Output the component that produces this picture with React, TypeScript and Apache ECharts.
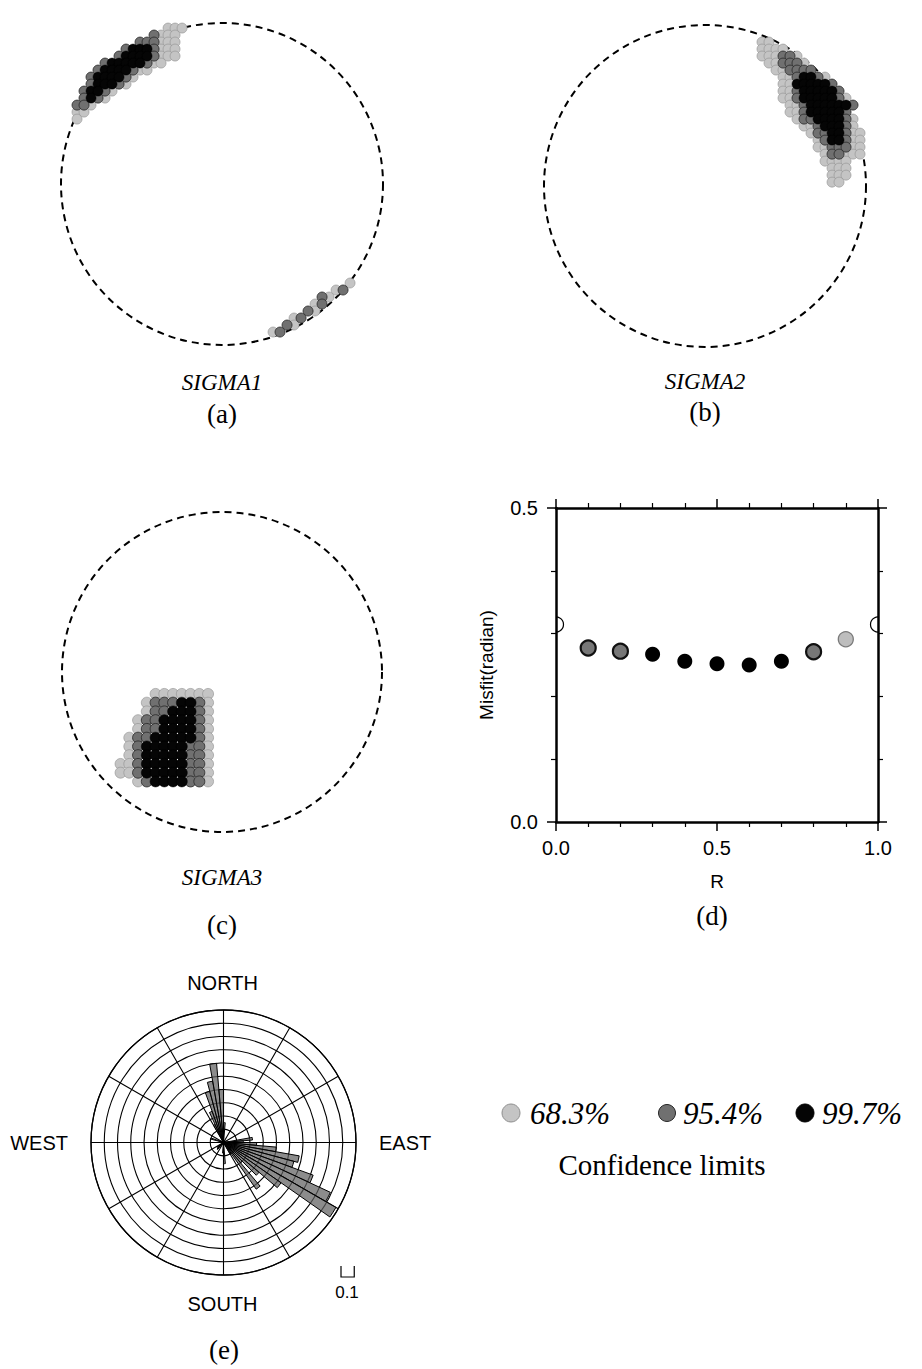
import React, { useEffect, useRef } from 'react';
import * as echarts from 'echarts';

// ---------------- DATA ----------------
// Confidence levels: 'a' = 68.3%, 'b' = 95.4%, 'c' = 99.7%
const LEVEL_KEYS = ['a', 'b', 'c'];
const LEVEL_NAMES = ['68.3%', '95.4%', '99.7%'];

// Stereonet solution clouds, read as dot maps (origin in projection units, one char per grid node)
const SIGMA1_BLOCKS = [
  {
    origin: [-0.944, 1.012], step: 0.0435,
    rows: [
      '.................a',
      '..............aaa',
      '............baaa',
      '..........bbbaaa',
      '........bcccbaaa',
      '.......bccccbaaa',
      '.....bcccccbaa',
      '....bccccbaa',
      '...bccccba',
      '...bcccba',
      '..bccba',
      '..bcba',
      '.bba',
      '.aa',
      '.a',
    ],
  },
  {
    origin: [0.317, -0.615], step: 0.0435,
    rows: [
      '...........a',
      '.........ab',
      '.......ba',
      '......ab',
      '.....ba',
      '...ab',
      '..ba',
      'ab',
    ],
  },
];

const SIGMA2_BLOCKS = [
  {
    origin: [0.354, 0.894], step: 0.0435,
    rows: [
      'aa',
      'aaaa',
      'aaabba',
      '.aabbba',
      '..aabbbb',
      '...aabccba',
      '...aacccccb',
      '...aabcccccb',
      '...aabcccccba',
      '....aabccccccb',
      '....aabcccccb',
      '.....abbccccba',
      '......aabcccba',
      '.......abbccbaa',
      '........abccbaa',
      '........aabbbaaa',
      '.........abbaaaa',
      '.........aaaa..a',
      '..........aaa',
      '..........aaa',
      '..........aa',
    ],
  },
];

const SIGMA3_BLOCKS = [
  {
    origin: [-0.634, -0.137], step: 0.0547,
    rows: [
      '....aaaaaaa',
      '...abbbccba',
      '...abbcccba',
      '..abbccccba',
      '..abbccccba',
      '.abbcccccba',
      '.abcccccbba',
      '.abcccccbba',
      'aabcccccbba',
      'aabcccccbba',
      '..abccccbba',
    ],
  },
];

// Panel (d): misfit versus stress ratio R
const R_VALUES = [0.1, 0.2, 0.3, 0.4, 0.5, 0.6, 0.7, 0.8, 0.9];
const MISFIT_VALUES = [0.277, 0.272, 0.267, 0.256, 0.252, 0.25, 0.256, 0.271, 0.291];
const MISFIT_LEVELS = ['b', 'b', 'c', 'c', 'c', 'c', 'c', 'b', 'a'];
const BOUNDARY_R = [0.0, 1.0];
const BOUNDARY_MISFIT = [0.3145, 0.3145];
const X_TICKS = [0.0, 0.5, 1.0];
const Y_TICKS = [0.0, 0.5];

// Panel (e): rose diagram, 5-degree bins starting at north, clockwise
const ROSE_BIN_WIDTH = 5;
const ROSE_FREQ = [
  0.15, 0, 0, 0, 0, 0,
  0, 0, 0, 0, 0, 0,
  0, 0, 0, 0, 0.22, 0.15,
  0.25, 0.4, 0.58, 0.55, 0.72, 0.89,
  0.98, 0.53, 0.35, 0.2, 0.43, 0.1,
  0, 0, 0, 0, 0, 0.16,
  0.08, 0, 0, 0, 0, 0,
  0, 0, 0.07, 0, 0.06, 0,
  0, 0, 0, 0, 0, 0,
  0, 0, 0, 0.1, 0, 0,
  0, 0, 0, 0, 0, 0,
  0.15, 0.25, 0.4, 0.47, 0.6, 0.4,
];
const ROSE_DIRECTIONS = ROSE_FREQ.map((_, i) => String(i * ROSE_BIN_WIDTH));
const ROSE_RING = 0.1;
const ROSE_MAX = 1.0;
const ROSE_SPOKE = 30;
const COMPASS = ['NORTH', 'EAST', 'SOUTH', 'WEST'];

// ---------------- LAYOUT / STYLE ----------------
const W = 922;
const H = 1369;
const SERIF = '"Liberation Serif", "Times New Roman", serif';
const SANS = '"Liberation Sans", Arial, Helvetica, sans-serif';

const NETS = [
  { cx: 222, cy: 184, r: 161, title: 'SIGMA1', tag: '(a)', titleY: 382, tagY: 414, blocks: SIGMA1_BLOCKS },
  { cx: 705, cy: 186, r: 161, title: 'SIGMA2', tag: '(b)', titleY: 381, tagY: 412, blocks: SIGMA2_BLOCKS },
  { cx: 222, cy: 672, r: 160, title: 'SIGMA3', tag: '(c)', titleY: 877, tagY: 925, blocks: SIGMA3_BLOCKS },
];
const MISFIT_BOX = { left: 556, top: 508, width: 322, height: 314 };
const ROSE = { cx: 223.5, cy: 1142.5, r: 132.5 };

const LEVEL_STYLES = [
  { color: '#c4c4c4', borderColor: '#8e8e8e', borderWidth: 0.6, opacity: 1 },
  { color: '#707070', borderColor: '#262626', borderWidth: 0.8, opacity: 1 },
  { color: '#050505', borderColor: '#000000', borderWidth: 0.5, opacity: 1 },
];

function decode(blocks: any[], key: string) {
  const pts: number[][] = [];
  blocks.forEach((b) =>
    b.rows.forEach((row: string, r: number) => {
      for (let c = 0; c < row.length; c++) {
        if (row[c] === key) pts.push([b.origin[0] + c * b.step, b.origin[1] - r * b.step]);
      }
    })
  );
  return pts;
}

function txt(text: string, x: number, y: number, font: string, align = 'center') {
  return {
    type: 'text',
    style: {
      text, x, y, textAlign: align, textVerticalAlign: 'middle', verticalAlign: 'middle', font, fill: '#000',
    },
  };
}

function buildOption() {
  const grids: any[] = [];
  const xAxes: any[] = [];
  const yAxes: any[] = [];
  const series: any[] = [];
  const graphics: any[] = [];

  NETS.forEach((n, i) => {
    grids.push({ left: n.cx - n.r, top: n.cy - n.r, width: 2 * n.r, height: 2 * n.r });
    xAxes.push({ gridIndex: i, type: 'value', min: -1, max: 1, show: false });
    yAxes.push({ gridIndex: i, type: 'value', min: -1, max: 1, show: false });
    LEVEL_KEYS.forEach((k, li) => {
      series.push({
        type: 'scatter',
        name: LEVEL_NAMES[li],
        xAxisIndex: i,
        yAxisIndex: i,
        symbol: 'circle',
        symbolSize: i === 2 ? 11 : 10,
        silent: true,
        itemStyle: LEVEL_STYLES[li],
        z: 2 + li,
        data: decode(n.blocks, k),
      });
    });
    graphics.push({
      type: 'circle',
      shape: { cx: n.cx, cy: n.cy, r: n.r },
      style: { fill: 'none', stroke: '#000', lineWidth: 2, lineDash: [7, 5] },
      z: 1,
    });
    graphics.push(txt(n.title, n.cx, n.titleY, `italic 23px ${SERIF}`));
    graphics.push(txt(n.tag, n.cx, n.tagY, `27px ${SERIF}`));
  });

  // Misfit panel
  const gi = 3;
  grids.push({ ...MISFIT_BOX });
  const axisLine = { show: true, onZero: false, lineStyle: { color: '#000', width: 2.5 } };
  const mkX = (pos: string, labels: boolean) => ({
    gridIndex: gi, type: 'value', position: pos, min: 0, max: 1, interval: 0.5,
    axisLine, splitLine: { show: false },
    axisTick: { show: true, inside: false, length: 9, lineStyle: { color: '#000', width: 1.5 } },
    minorTick: { show: true, splitNumber: 5, length: 5, lineStyle: { color: '#000', width: 1.2 } },
    axisLabel: labels
      ? { show: true, margin: 16, fontSize: 20, fontFamily: SANS, color: '#000',
          formatter: (v: number) => (X_TICKS.indexOf(v) >= 0 ? v.toFixed(1) : '') }
      : { show: false },
    name: labels ? 'R' : '', nameLocation: 'middle', nameGap: 50,
    nameTextStyle: { fontSize: 19, fontFamily: SANS, color: '#000' },
  });
  const mkY = (pos: string, labels: boolean) => ({
    gridIndex: gi, type: 'value', position: pos, min: 0, max: 0.5, interval: 0.5,
    axisLine, splitLine: { show: false },
    axisTick: { show: true, inside: false, length: 9, lineStyle: { color: '#000', width: 1.5 } },
    minorTick: { show: true, splitNumber: 5, length: 5, lineStyle: { color: '#000', width: 1.2 } },
    axisLabel: labels
      ? { show: true, margin: 18, fontSize: 20, fontFamily: SANS, color: '#000',
          formatter: (v: number) => (Y_TICKS.indexOf(v) >= 0 ? v.toFixed(1) : '') }
      : { show: false },
    name: labels ? 'Misfit(radian)' : '', nameLocation: 'middle', nameGap: 60, nameRotate: 90,
    nameTextStyle: { fontSize: 19, fontFamily: SANS, color: '#000' },
  });
  xAxes.push(mkX('bottom', true));
  xAxes.push(mkX('top', false));
  yAxes.push(mkY('left', true));
  yAxes.push(mkY('right', false));

  LEVEL_KEYS.forEach((k, li) => {
    const data: number[][] = [];
    R_VALUES.forEach((r, j) => {
      if (MISFIT_LEVELS[j] === k) data.push([r, MISFIT_VALUES[j]]);
    });
    series.push({
      type: 'scatter', name: LEVEL_NAMES[li], xAxisIndex: 3, yAxisIndex: 3,
      symbol: 'circle', symbolSize: 15, silent: true,
      itemStyle: li === 1
        ? { color: '#777777', borderColor: '#111', borderWidth: 2.2, opacity: 1 }
        : li === 0
        ? { color: '#bdbdbd', borderColor: '#7a7a7a', borderWidth: 1.3, opacity: 1 }
        : { color: '#000000', opacity: 1 },
      data,
    });
  });
  series.push({
    type: 'custom', xAxisIndex: 3, yAxisIndex: 3, clip: true, silent: true,
    data: BOUNDARY_R.map((r, j) => [r, BOUNDARY_MISFIT[j]]),
    renderItem: (params: any, api: any) => {
      const p = api.coord([api.value(0), api.value(1)]);
      return {
        type: 'circle',
        shape: { cx: p[0], cy: p[1], r: 7.5 },
        style: { fill: 'none', stroke: '#000', lineWidth: 1.2 },
      };
    },
  });
  graphics.push(txt('(d)', 712, 916, `27px ${SERIF}`));

  // Rose diagram: polar 0 = reference grid, polar 1 = petals
  const polar = [
    { center: [ROSE.cx, ROSE.cy], radius: ROSE.r },
    { center: [ROSE.cx, ROSE.cy], radius: ROSE.r },
  ];
  const angleAxis = [
    {
      polarIndex: 0, type: 'value', min: 0, max: 360, interval: ROSE_SPOKE, startAngle: 90, clockwise: true,
      axisLine: { show: true, lineStyle: { color: '#000', width: 1.3 } },
      axisTick: { show: false }, axisLabel: { show: false },
      splitLine: { show: true, lineStyle: { color: '#000', width: 1.1 } },
    },
    {
      polarIndex: 1, type: 'category', data: ROSE_DIRECTIONS, boundaryGap: true, startAngle: 90, clockwise: true,
      axisLine: { show: false }, axisTick: { show: false }, axisLabel: { show: false }, splitLine: { show: false },
    },
  ];
  const radiusAxis = [
    {
      polarIndex: 0, type: 'value', min: 0, max: ROSE_MAX, interval: ROSE_RING,
      axisLine: { show: false }, axisTick: { show: false }, axisLabel: { show: false },
      splitLine: { show: true, lineStyle: { color: '#000', width: 1.1 } },
    },
    {
      polarIndex: 1, type: 'value', min: 0, max: ROSE_MAX,
      axisLine: { show: false }, axisTick: { show: false }, axisLabel: { show: false }, splitLine: { show: false },
    },
  ];
  series.push({
    type: 'bar', coordinateSystem: 'polar', polarIndex: 1, barCategoryGap: '0%', silent: true,
    itemStyle: { color: 'rgba(95,95,95,0.72)', borderColor: '#000', borderWidth: 1 },
    data: ROSE_FREQ.map((v) => (v > 0 ? v : null)),
    z: 5,
  });
  const compassPos = [
    { x: ROSE.cx - 1, y: ROSE.cy - ROSE.r - 27, align: 'center' },
    { x: ROSE.cx + ROSE.r + 23, y: ROSE.cy, align: 'left' },
    { x: ROSE.cx - 1, y: ROSE.cy + ROSE.r + 29, align: 'center' },
    { x: ROSE.cx - ROSE.r - 23, y: ROSE.cy, align: 'right' },
  ];
  COMPASS.forEach((t, i) => {
    graphics.push(txt(t, compassPos[i].x, compassPos[i].y, `20px ${SANS}`, compassPos[i].align));
  });
  const barLen = ROSE.r * (ROSE_RING / ROSE_MAX);
  graphics.push({
    type: 'polyline',
    shape: { points: [[341, 1266], [341, 1277], [341 + barLen, 1277], [341 + barLen, 1266]] },
    style: { stroke: '#000', lineWidth: 1.2, fill: 'none' },
  });
  graphics.push(txt(String(ROSE_RING), 347, 1292, `17px ${SANS}`));
  graphics.push(txt('(e)', 224, 1350, `27px ${SERIF}`));

  // Confidence legend
  const legendDots = [
    { x: 511, r: 9 },
    { x: 667, r: 8.5 },
    { x: 805, r: 9 },
  ];
  const legendText = [530, 683, 822];
  LEVEL_NAMES.forEach((name, li) => {
    graphics.push({
      type: 'circle',
      shape: { cx: legendDots[li].x, cy: 1113, r: legendDots[li].r },
      style: { fill: LEVEL_STYLES[li].color, stroke: LEVEL_STYLES[li].borderColor, lineWidth: 1 },
    });
    graphics.push(txt(name, legendText[li], 1113, `italic 31px ${SERIF}`, 'left'));
  });
  graphics.push(txt('Confidence limits', 662, 1165, `29px ${SERIF}`));

  return {
    animation: false,
    backgroundColor: '#ffffff',
    grid: grids,
    xAxis: xAxes,
    yAxis: yAxes,
    polar,
    angleAxis,
    radiusAxis,
    series,
    graphic: { elements: graphics },
  };
}

export default function App() {
  const ref = useRef<HTMLDivElement>(null);
  useEffect(() => {
    if (!ref.current) return;
    const chart = echarts.init(ref.current, null, { renderer: 'svg' });
    chart.setOption(buildOption() as any);
    return () => chart.dispose();
  }, []);
  return (
    <div
      ref={ref}
      style={{ position: 'absolute', left: 0, top: 0, width: W, height: H, background: '#fff' }}
    />
  );
}
